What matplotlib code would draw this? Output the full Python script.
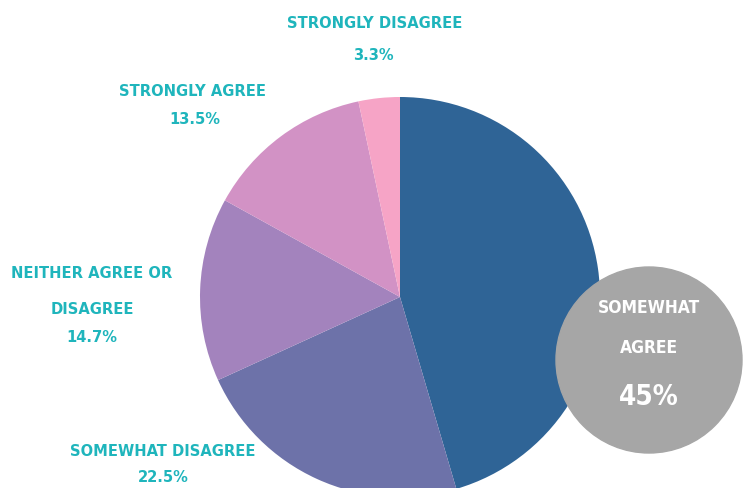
import matplotlib
matplotlib.use("Agg")
import matplotlib.pyplot as plt
from matplotlib import font_manager
from matplotlib.font_manager import FontProperties
from matplotlib.patches import Circle

# --- data ---------------------------------------------------------------
labels = ["SOMEWHAT AGREE", "SOMEWHAT DISAGREE", "NEITHER AGREE OR DISAGREE",
          "STRONGLY AGREE", "STRONGLY DISAGREE"]
values = [45.0, 22.5, 14.7, 13.5, 3.3]
pct_text = ["45%", "22.5%", "14.7%", "13.5%", "3.3%"]
colors = ["#2F6496", "#6D72A9", "#A383BD", "#D292C5", "#F6A4C6"]

W, H = 753, 488
TEAL = "#1FB5BC"


def narrow_font():
    """Pick the narrowest bold face that is installed (the original uses a condensed display font)."""
    best = None
    for f in font_manager.fontManager.ttflist:
        narrow = ("Condensed" in f.name or "Narrow" in f.name
                  or str(f.stretch) in ("condensed", "semi-condensed", "extra-condensed", "600", "700", "500"))
        if not narrow:
            continue
        bold = f.weight in ("bold", 700, "semibold", 600) or "Bold" in f.fname
        italic = f.style != "normal" or "Oblique" in f.fname or "Italic" in f.fname
        score = (bold, not italic)
        if best is None or score > best[0]:
            best = (score, f.fname)
    if best is not None and best[0][1]:
        return lambda size: FontProperties(fname=best[1], size=size)
    return lambda size: FontProperties(family="DejaVu Sans", weight="bold",
                                       stretch="condensed", size=size)


fp = narrow_font()

fig = plt.figure(figsize=(W / 100, H / 100), dpi=100)
ax = fig.add_axes([0, 0, 1, 1])
ax.axis("off")

# pie centre in pixel space (y measured up from the bottom)
cx, cy, r = 400, H - 297, 200
ax.pie(values, colors=colors, startangle=90, counterclock=False,
       center=(cx, cy), radius=r, normalize=True,
       wedgeprops=dict(linewidth=0))
ax.set_xlim(0, W)
ax.set_ylim(0, H)
ax.set_aspect("equal")

# gray callout bubble for the biggest slice
ax.add_patch(Circle((649, H - 360), 93, color="#A6A6A6", zorder=5))
kw = dict(ha="center", va="center", color="white", zorder=6)
ax.text(649, H - 308, "SOMEWHAT", fontproperties=fp(12.5), **kw)
ax.text(649, H - 348, "AGREE", fontproperties=fp(12.5), **kw)
ax.text(649, H - 397, pct_text[0], fontproperties=fp(20), **kw)

# outside labels (teal)
tkw = dict(ha="center", va="center", color=TEAL)
LS = 11.8
ax.text(375, H - 23, labels[4], fontproperties=fp(LS), **tkw)
ax.text(373, H - 55, pct_text[4], fontproperties=fp(LS), **tkw)
ax.text(193, H - 91, labels[3], fontproperties=fp(LS), **tkw)
ax.text(195, H - 119, pct_text[3], fontproperties=fp(LS), **tkw)
ax.text(92, H - 274, "NEITHER AGREE OR", fontproperties=fp(LS), **tkw)
ax.text(92, H - 309, "DISAGREE", fontproperties=fp(LS), **tkw)
ax.text(92, H - 337, pct_text[2], fontproperties=fp(LS), **tkw)
ax.text(163, H - 451, labels[1], fontproperties=fp(LS), **tkw)
ax.text(163, H - 477, pct_text[1], fontproperties=fp(LS), **tkw)

fig.savefig("out.png", dpi=100)
